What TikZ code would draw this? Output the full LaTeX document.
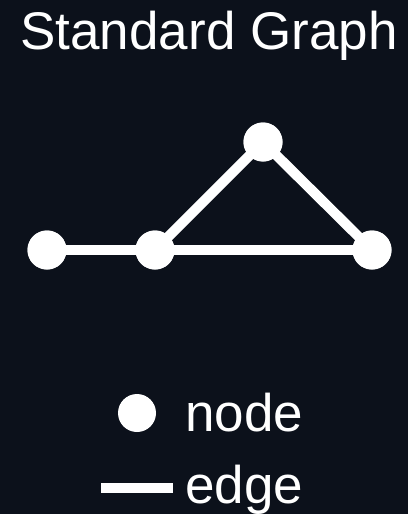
\documentclass[tikz,border=0pt]{standalone}
\usepackage{fontspec}
\setmainfont{Liberation Sans}
\definecolor{bgdark}{HTML}{0C111B}
\begin{document}
\begin{tikzpicture}[x=1pt,y=-1pt,
  vertex/.style={circle,fill=white,draw=none,minimum size=39pt,inner sep=0pt},
  link/.style={draw=white,line width=10pt},
  label/.style={text=white,inner sep=0pt,anchor=base west,font=\fontsize{53}{60}\selectfont}]
  % canvas
  \fill[bgdark] (0,0) rectangle (408,514);
  \useasboundingbox (0,0) rectangle (408,514);
  % title
  \node[text=white,inner sep=0pt,anchor=base,font=\fontsize{53}{60}\selectfont] (title) at (209,49) {Standard Graph};
  % graph
  \node[vertex] (a) at (47,250) {};
  \node[vertex] (b) at (155,250) {};
  \node[vertex] (c) at (263,142) {};
  \node[vertex] (d) at (372,250) {};
  \draw[link] (a.center) -- (b.center);
  \draw[link] (b.center) -- (d.center);
  \draw[link] (b.center) -- (c.center);
  \draw[link] (c.center) -- (d.center);
  \node[vertex] at (a) {};
  \node[vertex] at (b) {};
  \node[vertex] at (c) {};
  \node[vertex] at (d) {};
  % legend
  \node[vertex,minimum size=38pt] (lgnode) at (137,413) {};
  \node[label] (lgnodetext) at (185,431) {node};
  \coordinate (lgl) at (101,488);
  \coordinate (lgr) at (173,488);
  \draw[link] (lgl) -- (lgr);
  \node[label] (lgedgetext) at (185,503) {edge};
\end{tikzpicture}
\end{document}
